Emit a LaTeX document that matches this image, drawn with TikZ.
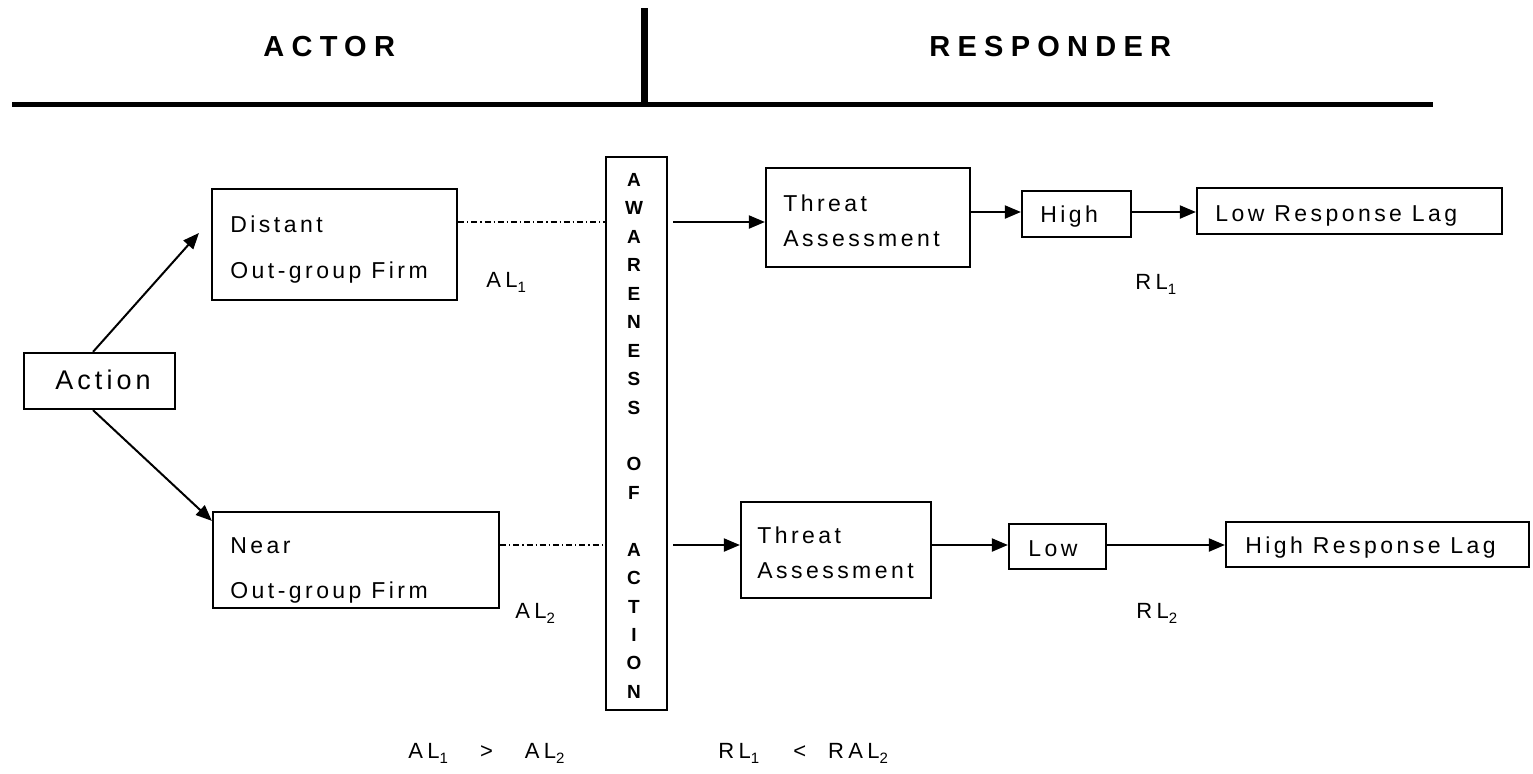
\documentclass[tikz,border=0pt]{standalone}
\usepackage{fontspec}
\setmainfont{Liberation Sans}
\newfontfamily\bodyfont[LetterSpace=15]{Liberation Sans}
\newfontfamily\labfont[LetterSpace=20]{Liberation Sans}
\newfontfamily\headfont[LetterSpace=25]{Liberation Sans}
\newcommand{\lsub}[1]{\raisebox{-2.5pt}{\fontsize{7.5}{8}\selectfont #1}}
\usetikzlibrary{arrows.meta}
\begin{document}
\begin{tikzpicture}[x=0.5pt,y=-0.5pt,
  box/.style={draw,line width=1.1pt,inner sep=0pt,rectangle},
  txt/.style={anchor=base west,inner sep=0pt,font=\bodyfont\fontsize{11.5}{13}\selectfont},
  acttxt/.style={anchor=base west,inner sep=0pt,font=\bodyfont\fontsize{13.5}{16}\selectfont},
  lab/.style={anchor=base west,inner sep=0pt,font=\labfont\fontsize{11}{13}\selectfont},
  hd/.style={anchor=base west,inner sep=0pt,font=\headfont\bfseries\fontsize{14.5}{16}\selectfont},
  awl/.style={anchor=base,inner sep=0pt,font=\bfseries\fontsize{9.5}{11}\selectfont},
  arr/.style={line width=1pt,-{Triangle[length=8pt,width=6.5pt]}},
  dd/.style={line width=0.7pt,dash pattern=on 3pt off 1.5pt on 0.6pt off 1.5pt}]
\useasboundingbox (0,0) rectangle (1533,773);
% header
\node[hd] (actor) at (263,56) {ACTOR};
\node[hd] (resp) at (929,56) {RESPONDER};
\draw[line width=2.5pt] (12,104) -- (1433,104);
\draw[line width=3.5pt] (644,8) -- (644,103);
% boxes
\node[box,minimum width=75.5pt,minimum height=28pt] (action) at (99.5,381) {};
\node[box,minimum width=122.5pt,minimum height=55.5pt] (distant) at (334.5,244.5) {};
\node[box,minimum width=143pt,minimum height=48pt] (near) at (356,560) {};
\node[box,minimum width=30.5pt,minimum height=276.5pt] (aware) at (636.5,433.5) {};
\node[box,minimum width=102pt,minimum height=49.5pt] (threat1) at (868,217.5) {};
\node[box,minimum width=54.5pt,minimum height=23pt] (high) at (1076.5,214) {};
\node[box,minimum width=152.5pt,minimum height=23pt] (lrl) at (1349.5,211) {};
\node[box,minimum width=95pt,minimum height=48pt] (threat2) at (836,550) {};
\node[box,minimum width=48.5pt,minimum height=22.5pt] (low) at (1057.5,546.5) {};
\node[box,minimum width=151.5pt,minimum height=22.5pt] (hrl) at (1377.5,544.5) {};
% box texts
\node[acttxt] (action-t) at (55,389) {Action};
\node[txt] (distant-t1) at (230,232) {Distant};
\node[txt] (distant-t2) at (230,278) {Out-group Firm};
\node[txt] (near-t1) at (230,553) {Near};
\node[txt] (near-t2) at (230,598) {Out-group Firm};
\node[txt] (threat1-t1) at (783,211) {Threat};
\node[txt] (threat1-t2) at (783,246) {Assessment};
\node[txt] (threat2-t1) at (757,543) {Threat};
\node[txt] (threat2-t2) at (757,578) {Assessment};
\node[txt] (high-t) at (1040,222) {High};
\node[txt] (lrl-t) at (1215,221) {Low Response Lag};
\node[txt] (low-t) at (1028,556) {Low};
\node[txt] (hrl-t) at (1245,553) {High Response Lag};
% awareness letters
\foreach \k/\c in {0/A,1/W,2/A,3/R,4/E,5/N,6/E,7/S,8/S,10/O,11/F,13/A,14/C,15/T,16/I,17/O,18/N}
  \node[awl] (aw\k) at (634,186.5+28.44*\k) {\c};
% labels
\node[lab] (al1) at (486,287) {AL\lsub{1}};
\node[lab] (al2) at (515,618) {AL\lsub{2}};
\node[lab] (rl1) at (1135,289) {RL\lsub{1}};
\node[lab] (rl2) at (1136,618) {RL\lsub{2}};
\node[lab] (cmp1) at (408,758) {AL\lsub{1}\hspace{16pt}>\hspace{16pt}AL\lsub{2}};
\node[lab] (cmp2) at (718,758) {RL\lsub{1}\hspace{17pt}<\hspace{11pt}RAL\lsub{2}};
% connectors
\coordinate (ya) at (0,222);
\coordinate (yr) at (0,212);
\coordinate (yb) at (0,545);
\draw[arr] ([xshift=-3.25pt]action.north) -- ([xshift=-6pt,yshift=5.75pt]distant.west);
\draw[arr] ([xshift=-3.25pt]action.south) -- ([yshift=-5pt]near.north west);
\draw[dd] (distant.east |- ya) -- (aware.west |- ya);
\draw[dd] (near.east |- yb) -- (aware.west |- yb);
\draw[arr,shorten <=2.5pt] (aware.east |- ya) -- (threat1.west |- ya);
\draw[arr] (threat1.east |- yr) -- (high.west |- yr);
\draw[arr] (high.east |- yr) -- (lrl.west |- yr);
\draw[arr,shorten <=2.5pt] (aware.east |- yb) -- (threat2.west |- yb);
\draw[arr] (threat2.east |- yb) -- (low.west |- yb);
\draw[arr] (low.east |- yb) -- (hrl.west |- yb);
\end{tikzpicture}
\end{document}
